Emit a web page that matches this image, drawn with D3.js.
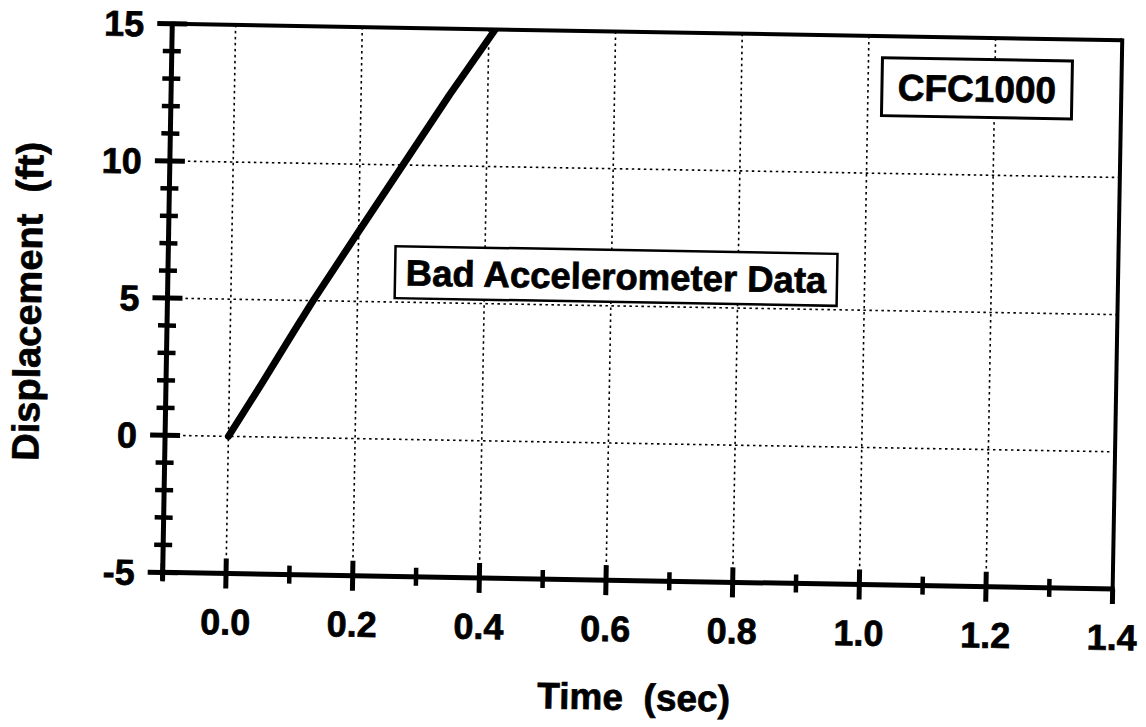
<!DOCTYPE html>
<html>
<head>
<meta charset="utf-8">
<script src="https://cdn.jsdelivr.net/npm/d3@7"></script>
<style>
  html, body { margin: 0; padding: 0; background: #fff; }
  svg { display: block; }
  text { font-family: "Liberation Sans", Arial, Helvetica, sans-serif; font-weight: bold; fill: #000; stroke: #000; stroke-width: 0.7px; }
</style>
</head>
<body>
<svg id="chart" width="1146" height="727"></svg>
<script>
// ---- data ----
const timeSec = [0.0, 0.05, 0.10, 0.13, 0.20, 0.268, 0.34, 0.41];
const displacementFt = [0.0, 1.9, 3.85, 5.0, 7.55, 10.0, 12.6, 15.0];
const xMajorTicks = [0.0, 0.2, 0.4, 0.6, 0.8, 1.0, 1.2, 1.4];
const xMinorTicks = [-0.1, 0.1, 0.3, 0.5, 0.7, 0.9, 1.1, 1.3];
const xGridTicks = [0.0, 0.2, 0.4, 0.6, 0.8, 1.0, 1.2];
const yMajorTicks = [-5, 0, 5, 10, 15];
const yMinorTicks = [-4, -3, -2, -1, 1, 2, 3, 4, 6, 7, 8, 9, 11, 12, 13, 14];
const yGridTicks = [0, 5, 10];
const xTitle = "Time\u00a0\u00a0(sec)";
const yTitle = "Displacement\u00a0\u00a0(ft)";
const notes = [
  { text: "CFC1000", x: 1.172, y: 13.16, w: 190, h: 58, stroke: 3, size: 37 },
  { text: "Bad Accelerometer Data", x: 0.6075, y: 6.09, w: 442, h: 52, stroke: 2.5, size: 36.5 }
];

// ---- layout ----
const svg = d3.select("#chart");
const root = svg.append("g").attr("transform", "rotate(1, 641, 307)");

const x = d3.scaleLinear().domain([-0.1, 1.4]).range([167.4, 1117.5]);
const y = d3.scaleLinear().domain([-5, 15]).range([580.7, 32]);
const [x0, x1] = x.range();
const [yb, yt] = y.range();

// clip
svg.append("defs").append("clipPath").attr("id", "clip")
  .append("rect").attr("x", x0).attr("y", yt).attr("width", x1 - x0).attr("height", yb - yt);

// grid
const grid = root.append("g").attr("stroke", "#000").attr("stroke-width", 1.6)
  .attr("stroke-dasharray", "2.5,3.5").attr("fill", "none");
grid.selectAll(".gx").data(xGridTicks).join("line")
  .attr("x1", d => x(d)).attr("x2", d => x(d)).attr("y1", yt).attr("y2", yb);
grid.selectAll(".gy").data(yGridTicks).join("line")
  .attr("y1", d => y(d)).attr("y2", d => y(d)).attr("x1", x0).attr("x2", x1);

// data line
const line = d3.line().x((d, i) => x(timeSec[i])).y((d, i) => y(displacementFt[i]));
root.append("path").datum(displacementFt)
  .attr("clip-path", "url(#clip)")
  .attr("d", line).attr("fill", "none").attr("stroke", "#000")
  .attr("stroke-width", 7).attr("stroke-linejoin", "round").attr("stroke-linecap", "round");

// frame
const frame = root.append("g").attr("stroke", "#000").attr("fill", "none");
frame.append("line").attr("x1", x0).attr("x2", x1).attr("y1", yt).attr("y2", yt).attr("stroke-width", 4);
frame.append("line").attr("x1", x1).attr("x2", x1).attr("y1", yt - 2).attr("y2", yb).attr("stroke-width", 4);
frame.append("line").attr("x1", x0 - 2).attr("x2", x1 + 2).attr("y1", yb).attr("y2", yb).attr("stroke-width", 5);
frame.append("line").attr("x1", x0).attr("x2", x0).attr("y1", yt - 2).attr("y2", yb + 8).attr("stroke-width", 5);

// x axis ticks (cross both sides)
const xAxisG = root.append("g");
xAxisG.selectAll(".xmaj").data(xMajorTicks).join("line")
  .attr("x1", d => x(d)).attr("x2", d => x(d))
  .attr("y1", d => d === 1.4 ? yb : yb - 15).attr("y2", yb + 15)
  .attr("stroke", "#000").attr("stroke-width", 5);
xAxisG.selectAll(".xmin").data(xMinorTicks).join("line")
  .attr("x1", d => x(d)).attr("x2", d => x(d))
  .attr("y1", yb - 9).attr("y2", yb + 9)
  .attr("stroke", "#000").attr("stroke-width", 4.5);
xAxisG.selectAll("text").data(xMajorTicks).join("text")
  .attr("x", d => x(d)).attr("y", yb + 61)
  .attr("text-anchor", "middle").attr("font-size", 36)
  .text(d => d3.format(".1f")(d));

// y axis ticks
const yAxisG = root.append("g");
yAxisG.selectAll(".ymaj").data(yMajorTicks).join("line")
  .attr("y1", d => y(d)).attr("y2", d => y(d))
  .attr("x1", x0 - 15).attr("x2", x0 + 15)
  .attr("stroke", "#000").attr("stroke-width", 5);
yAxisG.selectAll(".ymin").data(yMinorTicks).join("line")
  .attr("y1", d => y(d)).attr("y2", d => y(d))
  .attr("x1", x0 - 9).attr("x2", x0 + 9)
  .attr("stroke", "#000").attr("stroke-width", 4.5);
yAxisG.selectAll("text").data(yMajorTicks).join("text")
  .attr("x", x0 - 28).attr("y", d => y(d))
  .attr("dy", "0.36em")
  .attr("text-anchor", "end").attr("font-size", 36)
  .text(d => d);

// axis titles
root.append("text").attr("x", (x0 + x1) / 2 - 2).attr("y", 710)
  .attr("text-anchor", "middle").attr("font-size", 37).text(xTitle);
root.append("text").attr("transform", "translate(41,312) rotate(-90)")
  .attr("text-anchor", "middle").attr("font-size", 38).text(yTitle);

// annotations
const ann = root.selectAll(".note").data(notes).join("g")
  .attr("transform", d => `translate(${x(d.x)},${y(d.y)})`);
ann.append("rect")
  .attr("x", d => -d.w / 2).attr("y", d => -d.h / 2)
  .attr("width", d => d.w).attr("height", d => d.h)
  .attr("fill", "#fff").attr("stroke", "#000").attr("stroke-width", d => d.stroke);
ann.append("text").attr("text-anchor", "middle").attr("dy", "0.36em")
  .attr("font-size", d => d.size).text(d => d.text);
</script>
</body>
</html>
